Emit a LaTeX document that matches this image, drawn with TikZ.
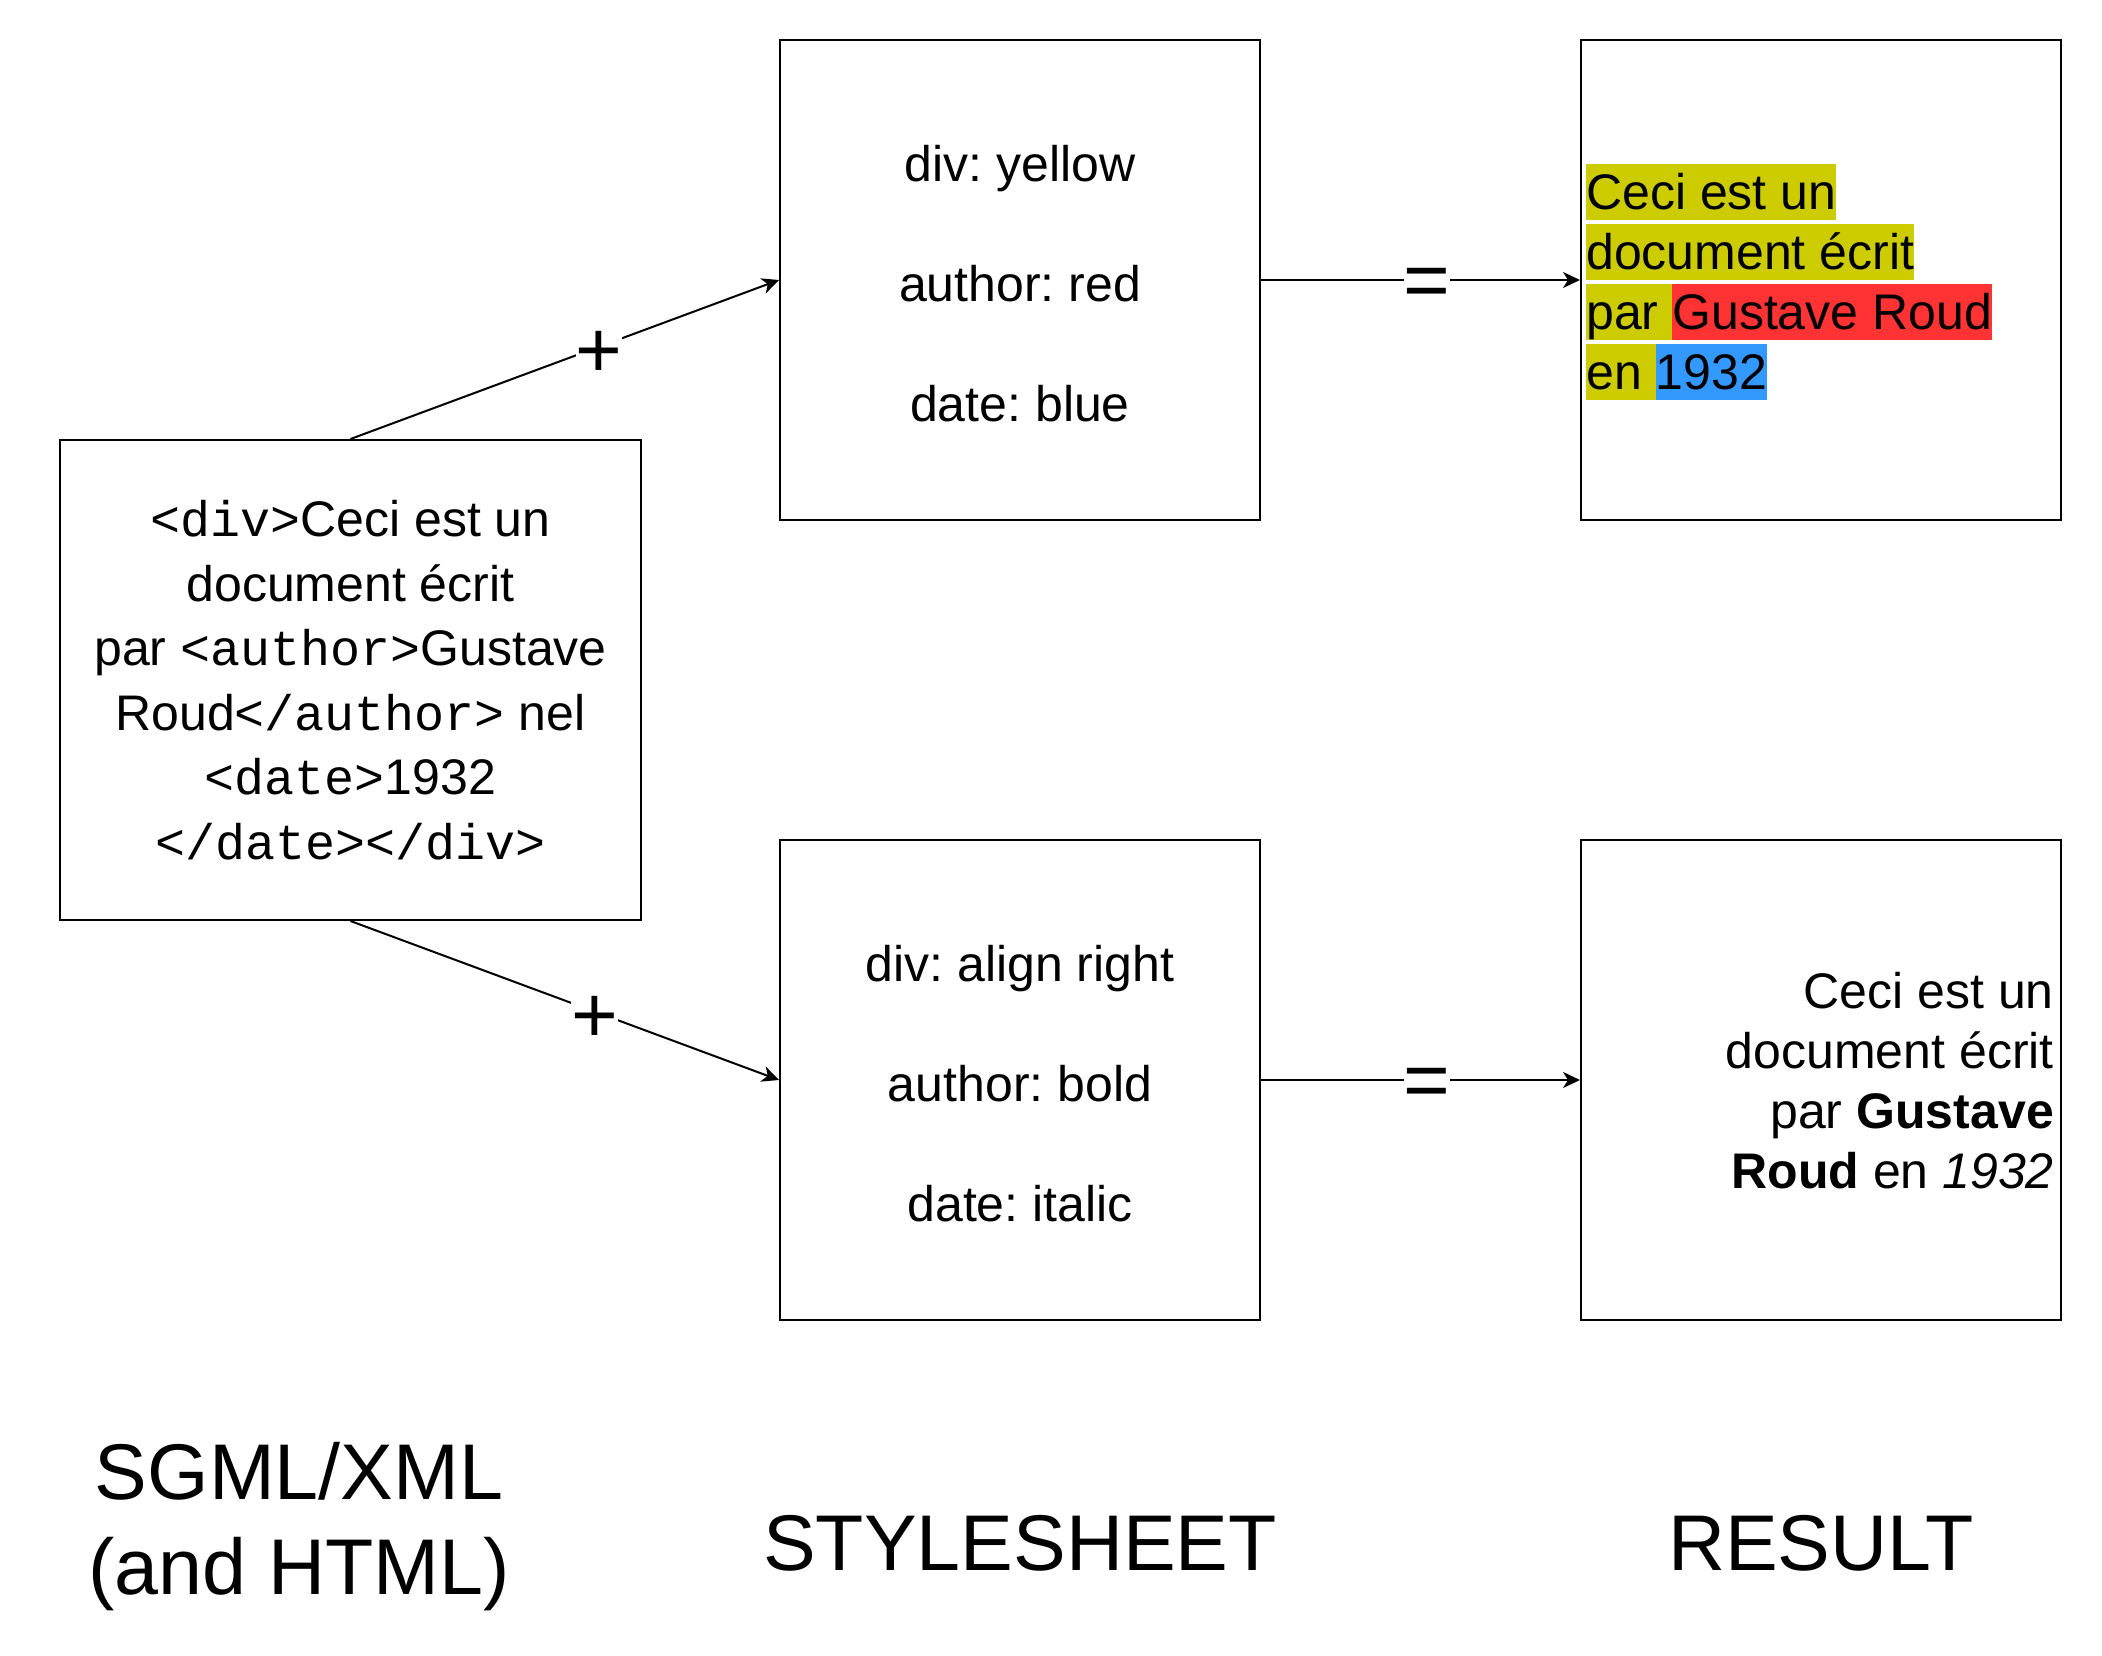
\documentclass[tikz,border=0pt]{standalone}
\usepackage{fontspec}
\setmainfont{Liberation Sans}
\newfontfamily\codefont{Liberation Mono}
\usetikzlibrary{arrows.meta}
\definecolor{hly}{HTML}{CCCC00}
\definecolor{hlr}{HTML}{FF3333}
\definecolor{hlb}{HTML}{3399FF}
\newcommand{\hlbox}[2]{{\setlength{\fboxsep}{0pt}\colorbox{#1}{\rule[-11pt]{0pt}{56pt}#2}}}
\newcommand{\tg}[1]{{\codefont #1}}
\frenchspacing
\begin{document}
\begin{tikzpicture}[x=1pt,y=-1pt,
  box/.style={draw, line width=2pt, minimum width=480pt, minimum height=480pt, inner sep=0pt, align=center, font=\fontsize{50}{60}\selectfont},
  arr/.style={line width=2pt, -{Stealth[length=17pt,width=16pt,inset=5pt]}},
  lbl/.style={fill=white, inner sep=0pt, yshift=-8pt, font=\fontsize{80}{96}\selectfont},
  title/.style={align=center, font=\fontsize{79}{95}\selectfont},
  restext/.style={inner sep=0pt, font=\fontsize{50}{60}\selectfont},
  sheettext/.style={inner sep=0pt, align=center, font=\fontsize{50}{60}\selectfont}]
\useasboundingbox (0,0) rectangle (2102,1656);
\fill[white] (0,0) rectangle (2102,1656);

\node[box, minimum width=581pt, font=\fontsize{50}{64.5}\selectfont] (xml) at (350.5,680)
  {\tg{<div>}Ceci est un\\document écrit\\par \tg{<author>}Gustave\\Roud\tg{</author>} nel\\\tg{<date>}1932\\\tg{</date></div>}};

\node[box] (sty1) at (1020,280) {};
\node[box] (sty2) at (1020,1080) {};
\node[sheettext] (sty1txt) at (1020,284) {div: yellow\\[60pt]author: red\\[60pt]date: blue};
\node[sheettext] (sty2txt) at (1020,1084) {div: align right\\[60pt]author: bold\\[60pt]date: italic};

\node[box] (res1) at (1821,280) {};
\node[box] (res2) at (1821,1080) {};

\node[restext, anchor=north west, align=left] (res1txt) at (1586,164)
  {\hlbox{hly}{Ceci est un}\\\hlbox{hly}{document écrit}\\\hlbox{hly}{par }\hlbox{hlr}{Gustave Roud}\\\hlbox{hly}{en }\hlbox{hlb}{1932}};
\node[restext, anchor=east, align=right] (res2txt) at (2054,1081)
  {Ceci est un\\document écrit\\par \textbf{Gustave}\\\textbf{Roud} en \textit{1932}};

\draw[arr] (xml.north) -- node[lbl, pos=0.58] (p1) {+} (sty1.west);
\draw[arr] (xml.south) -- node[lbl, pos=0.57] (p2) {+} (sty2.west);
\draw[arr] (sty1.east) -- node[lbl, pos=0.52] (e1) {=} (res1.west);
\draw[arr] (sty2.east) -- node[lbl, pos=0.52] (e2) {=} (res2.west);

\node[title] (t1) at (299,1527) {SGML/XML\\(and HTML)};
\node[title, anchor=base] (t2) at (1020,1570) {STYLESHEET};
\node[title, anchor=base] (t3) at (1821,1570) {RESULT};
\end{tikzpicture}
\end{document}
